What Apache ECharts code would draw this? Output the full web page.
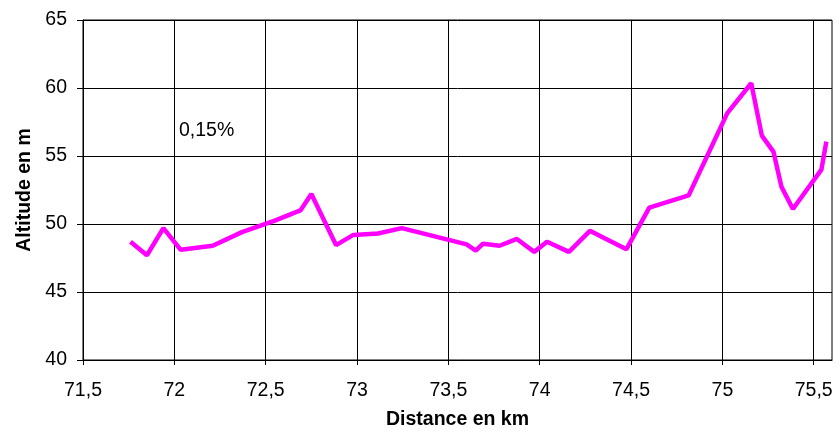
<!DOCTYPE html>
<html>
<head>
<meta charset="utf-8">
<script src="https://cdn.jsdelivr.net/npm/echarts@6/dist/echarts.min.js"></script>
<style>
html,body{margin:0;padding:0;background:#fff;}
#chart{width:840px;height:435px;}
</style>
</head>
<body>
<div id="chart"></div>
<script>
const distanceKm = [71.76, 71.85, 71.94, 72.035, 72.21, 72.37, 72.55, 72.69, 72.75, 72.885, 72.98, 73.115, 73.245, 73.60, 73.65, 73.69, 73.78, 73.875, 73.97, 74.04, 74.16, 74.275, 74.355, 74.475, 74.60, 74.815, 75.027, 75.158, 75.216, 75.28, 75.323, 75.386, 75.542, 75.569];
const altitudeM = [48.7, 47.7, 49.7, 48.1, 48.4, 49.4, 50.25, 51.0, 52.2, 48.45, 49.2, 49.3, 49.7, 48.5, 48.05, 48.55, 48.4, 48.9, 47.95, 48.7, 47.95, 49.5, 48.95, 48.15, 51.2, 52.1, 58.15, 60.35, 56.5, 55.3, 52.75, 51.1, 54.0, 56.05];
const xTicks = [71.5, 72, 72.5, 73, 73.5, 74, 74.5, 75, 75.5];
const xTitle = 'Distance en km';
const yTitle = 'Altitude en m';
const annotation = '0,15%';

const font = '"Liberation Sans", Arial, sans-serif';
const chart = echarts.init(document.getElementById('chart'), null, {renderer: 'canvas'});
const seriesData = distanceKm.map((d, i) => [d, altitudeM[i]]);

chart.setOption({
  animation: false,
  backgroundColor: '#fff',
  grid: {left: 83, top: 20, right: 8, bottom: 75, show: true, borderColor: '#000', borderWidth: 1},
  xAxis: {
    type: 'value', min: 71.5, max: 75.6, interval: 0.5,
    name: xTitle, nameLocation: 'middle', nameGap: 50,
    nameTextStyle: {fontFamily: font, fontSize: 19.5, fontWeight: 'bold', color: '#000'},
    axisLine: {lineStyle: {color: '#000', width: 1}},
    axisTick: {show: true, length: 5, lineStyle: {color: '#000'}, customValues: xTicks},
    axisLabel: {fontFamily: font, fontSize: 19.5, color: '#000', margin: 21, customValues: xTicks,
      formatter: v => String(v).replace('.', ',')},
    splitLine: {show: true, lineStyle: {color: '#000', width: 1}}
  },
  yAxis: {
    type: 'value', min: 40, max: 65, interval: 5,
    name: yTitle, nameLocation: 'middle', nameGap: 47,
    nameTextStyle: {fontFamily: font, fontSize: 19.5, fontWeight: 'bold', color: '#000'},
    axisLine: {show: true, lineStyle: {color: '#000', width: 1}},
    axisTick: {show: true, length: 6, lineStyle: {color: '#000'}},
    axisLabel: {fontFamily: font, fontSize: 19.5, color: '#000', margin: 16},
    splitLine: {show: true, lineStyle: {color: '#000', width: 1}}
  },
  graphic: [{
    type: 'text', left: 179, top: 121,
    style: {text: annotation, fontFamily: font, fontSize: 19.5, fill: '#000'}
  }],
  series: [{
    type: 'line', data: seriesData, showSymbol: false, symbol: 'none',
    lineStyle: {color: '#FF00FF', width: 4.5}, itemStyle: {color: '#FF00FF'}
  }]
});
</script>
</body>
</html>
